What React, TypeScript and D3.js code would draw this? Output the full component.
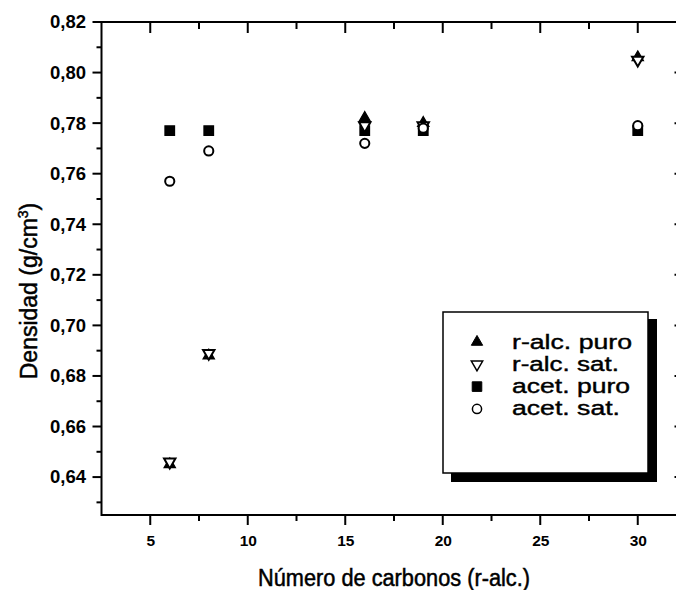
import React, { useRef, useEffect } from 'react';
import * as d3 from 'd3';

const carbonNumbers = [6, 8, 16, 19, 30];
const rAlcPuro = [0.645, 0.688, 0.782, 0.780, 0.806];
const rAlcSat = [0.646, 0.689, 0.779, 0.779, 0.805];
const acetPuro = [0.777, 0.777, 0.777, 0.777, 0.777];
const acetSat = [0.757, 0.769, 0.772, 0.778, 0.779];

const xMajorTicks = [5, 10, 15, 20, 25, 30];
const xMinorTicks = [7.5, 12.5, 17.5, 22.5, 27.5];
const yMajorTicks = [0.64, 0.66, 0.68, 0.70, 0.72, 0.74, 0.76, 0.78, 0.80, 0.82];
const yMinorTicks = [0.63, 0.65, 0.67, 0.69, 0.71, 0.73, 0.75, 0.77, 0.79, 0.81];
const seriesNames = ['r-alc. puro', 'r-alc. sat.', 'acet. puro', 'acet. sat.'];
const legendTextWidths = [120, 107, 118, 108];

const W = 676;
const H = 590;
const FONT = '"Liberation Sans", Arial, Helvetica, sans-serif';

export default function App() {
  const ref = useRef<SVGSVGElement | null>(null);

  useEffect(() => {
    const svg = d3.select(ref.current);
    svg.selectAll('*').remove();

    const x = d3.scaleLinear().domain([2.5, 32.5]).range([101.5, 686.5]);
    const y = d3.scaleLinear().domain([0.625, 0.82]).range([515, 22]);
    const [x0, x1] = x.range();
    const [y0, y1] = y.range();

    const fmtY = (d: number) => d.toFixed(2).replace('.', ',');

    // tick marks drawn from the scales
    const ticks = svg.append('g').attr('stroke', '#000').attr('stroke-width', 2);
    const vTicks = (vals: number[], yStart: number, yEnd: number) => {
      ticks.append('g').selectAll('line').data(vals).enter().append('line')
        .attr('x1', (d: number) => x(d)).attr('x2', (d: number) => x(d))
        .attr('y1', yStart).attr('y2', yEnd);
    };
    const hTicks = (vals: number[], xStart: number, xEnd: number) => {
      ticks.append('g').selectAll('line').data(vals).enter().append('line')
        .attr('y1', (d: number) => y(d)).attr('y2', (d: number) => y(d))
        .attr('x1', xStart).attr('x2', xEnd);
    };
    vTicks(xMajorTicks, y0, y0 + 10);
    vTicks(xMinorTicks, y0, y0 + 6);
    vTicks(xMajorTicks, y1, y1 + 11);
    vTicks(xMinorTicks, y1, y1 + 7);
    hTicks(yMajorTicks, x0 - 9, x0);
    hTicks(yMinorTicks, x0 - 5, x0);
    hTicks(yMajorTicks, x1 - 12, x1);
    hTicks(yMinorTicks, x1 - 7, x1);

    // axis labels via d3 axes
    svg.append('g').attr('transform', `translate(0,${y0})`)
      .call(d3.axisBottom(x).tickValues(xMajorTicks).tickSize(0).tickPadding(20).tickFormat(d3.format('d')))
      .call((g: any) => g.select('.domain').remove())
      .call((g: any) => g.selectAll('text').attr('font-family', FONT).attr('font-weight', 'bold').attr('font-size', 15.5).attr('fill', '#000'));

    svg.append('g').attr('transform', `translate(${x0},0)`)
      .call(d3.axisLeft(y).tickValues(yMajorTicks).tickSize(0).tickPadding(15.5).tickFormat((d: any) => fmtY(d)))
      .call((g: any) => g.select('.domain').remove())
      .call((g: any) => g.selectAll('text').attr('font-family', FONT).attr('font-weight', 'bold').attr('font-size', 18.5).attr('fill', '#000'));

    // frame
    svg.append('rect')
      .attr('x', x0).attr('y', y1).attr('width', x1 - x0).attr('height', y0 - y1)
      .attr('fill', 'none').attr('stroke', '#000').attr('stroke-width', 2);

    // axis titles
    svg.append('text')
      .attr('x', (x0 + x1) / 2).attr('y', 586)
      .attr('text-anchor', 'middle')
      .attr('font-family', FONT).attr('font-size', 23)
      .attr('textLength', 272).attr('lengthAdjust', 'spacingAndGlyphs')
      .attr('fill', '#000').attr('stroke', '#000').attr('stroke-width', 0.5)
      .text('Número de carbonos (r-alc.)');

    const yt = svg.append('text')
      .attr('transform', `translate(37,291) rotate(-90)`)
      .attr('text-anchor', 'middle')
      .attr('font-family', FONT).attr('font-size', 23)
      .attr('fill', '#000').attr('stroke', '#000').attr('stroke-width', 0.5);
    yt.append('tspan').text('Densidad (g/cm');
    yt.append('tspan').attr('font-size', 14).attr('dy', -9).text('3');
    yt.append('tspan').attr('dy', 9).text(')');

    // markers
    const triUp = d3.symbol().type(d3.symbolTriangle).size(56)();
    const square = d3.symbol().type(d3.symbolSquare).size(92)();
    const circle = d3.symbol().type(d3.symbolCircle).size(66)();

    type S = { name: string; values: number[]; path: string | null; rot: number; filled: boolean };
    const series: S[] = [
      { name: seriesNames[2], values: acetPuro, path: square, rot: 0, filled: true },
      { name: seriesNames[0], values: rAlcPuro, path: triUp, rot: 0, filled: true },
      { name: seriesNames[1], values: rAlcSat, path: triUp, rot: 180, filled: false },
      { name: seriesNames[3], values: acetSat, path: circle, rot: 0, filled: false },
    ];

    const plot = svg.append('g');
    series.forEach((s) => {
      plot.selectAll(null)
        .data(carbonNumbers.map((c, i) => [c, s.values[i]]))
        .enter().append('path')
        .attr('d', s.path as string)
        .attr('transform', (d: number[]) => `translate(${x(d[0])},${y(d[1])}) rotate(${s.rot})`)
        .attr('fill', s.filled ? '#000' : '#fff')
        .attr('stroke', '#000')
        .attr('stroke-width', s.filled ? 1.2 : 2);
    });

    // legend
    const lg = svg.append('g');
    lg.append('rect').attr('x', 451).attr('y', 319).attr('width', 206).attr('height', 163).attr('fill', '#000');
    lg.append('rect').attr('x', 443).attr('y', 312).attr('width', 205).attr('height', 161)
      .attr('fill', '#fff').attr('stroke', '#000').attr('stroke-width', 1.5);
    const legendOrder = [series[1], series[2], series[0], series[3]];
    legendOrder.forEach((s, i) => {
      const cy = 342 + i * 22.3;
      lg.append('path').attr('d', s.path as string)
        .attr('transform', `translate(477,${cy}) rotate(${s.rot})`)
        .attr('fill', s.filled ? '#000' : '#fff')
        .attr('stroke', '#000').attr('stroke-width', s.filled ? 1 : 1.5);
      lg.append('text').attr('x', 512).attr('y', cy + 6.5)
        .attr('font-family', FONT).attr('font-size', 20).attr('fill', '#000')
        .attr('stroke', '#000').attr('stroke-width', 0.4)
        .attr('textLength', legendTextWidths[i]).attr('lengthAdjust', 'spacingAndGlyphs')
        .text(s.name);
    });
  }, []);

  return (
    <svg ref={ref} width={W} height={H}
      style={{ position: 'absolute', left: 0, top: 0, background: '#fff' }} />
  );
}
